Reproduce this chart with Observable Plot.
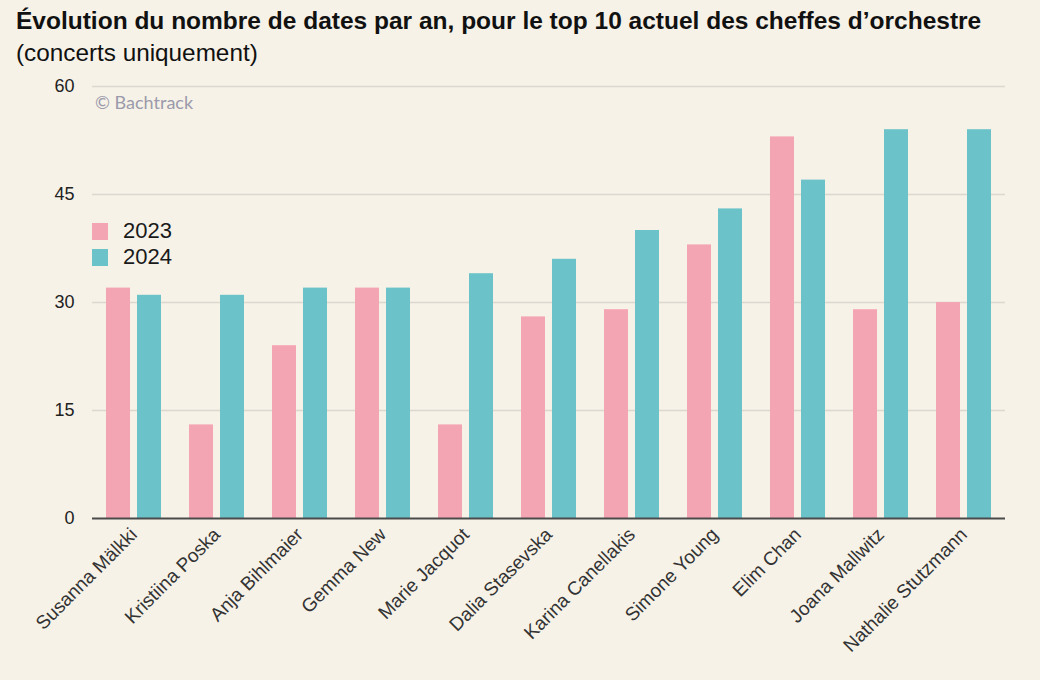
<!DOCTYPE html>
<html>
<head>
<meta charset="utf-8">
<script src="https://cdn.jsdelivr.net/npm/d3@7"></script>
<script src="https://cdn.jsdelivr.net/npm/@observablehq/plot@0.6"></script>
<style>
  html, body { margin: 0; padding: 0; background: #f6f2e8; }
  #wrap { position: relative; width: 1040px; height: 680px; overflow: hidden; font-family: "Liberation Sans", Arial, Helvetica, sans-serif; color: #111; }
  #title { position: absolute; left: 16px; top: 6px; font-size: 24.5px; font-weight: bold; line-height: 30px; white-space: nowrap; }
  #subtitle { position: absolute; left: 16px; top: 38px; font-size: 24.3px; line-height: 30px; white-space: nowrap; }
  #chart { position: absolute; left: 0; top: 72px; }
  #credit { position: absolute; left: 95px; top: 91px; font-family: Lato, "Open Sans", sans-serif; font-size: 18px; color: #9b9aab; }
  #legend { position: absolute; left: 92px; top: 218px; font-size: 22px; color: #1a1a1a; }
  .li { display: flex; align-items: center; height: 26px; }
  .sw { width: 16px; height: 17px; margin-right: 15px; }
</style>
</head>
<body>
<div id="wrap">
  <div id="title">Évolution du nombre de dates par an, pour le top 10 actuel des cheffes d’orchestre</div>
  <div id="subtitle">(concerts uniquement)</div>
  <div id="chart"></div>
  <div id="credit">© Bachtrack</div>
  <div id="legend"></div>
</div>
<script>
const names = ["Susanna Mälkki", "Kristiina Poska", "Anja Bihlmaier", "Gemma New", "Marie Jacquot", "Dalia Stasevska", "Karina Canellakis", "Simone Young", "Elim Chan", "Joana Mallwitz", "Nathalie Stutzmann"];
const years = ["2023", "2024"];
const v2023 = [32, 13, 24, 32, 13, 28, 29, 38, 53, 29, 30];
const v2024 = [31, 31, 32, 32, 34, 36, 40, 43, 47, 54, 54];
const yTicks = [0, 15, 30, 45, 60];
const colors = ["#f4a5b4", "#6bc3c9"];

const data = names.flatMap((n, i) => [
  {name: n, year: years[0], value: v2023[i]},
  {name: n, year: years[1], value: v2024[i]}
]);

const chart = Plot.plot({
  width: 1040,
  height: 608,
  marginLeft: 91,
  marginRight: 35,
  marginTop: 14,
  marginBottom: 162,
  style: {background: "transparent", fontFamily: "'Liberation Sans', Arial, sans-serif", fontSize: "18px", color: "#222"},
  fx: {domain: names, paddingInner: 0, paddingOuter: 0, label: null},
  x: {domain: years, paddingInner: 0.22, paddingOuter: 0.408, axis: null},
  y: {domain: [0, 60], label: null},
  color: {domain: years, range: colors},
  marks: [
    Plot.ruleY(yTicks.filter(d => d > 0), {stroke: "#dcd8cd", strokeWidth: 1.5}),
    Plot.barY(data, {fx: "name", x: "year", y: "value", fill: "year"}),
    Plot.ruleY([0], {stroke: "#4a4a4a", strokeWidth: 2}),
    Plot.axisY({ticks: yTicks, tickSize: 0, tickPadding: 18, label: null, fontSize: 18, fill: "#222"}),
    Plot.axisFx({anchor: "bottom", tickRotate: -45, tickSize: 0, tickPadding: 13, label: null, fontSize: 19, fill: "#333"})
  ]
});
document.getElementById("chart").appendChild(chart);

const legend = document.getElementById("legend");
years.forEach((y, i) => {
  const row = document.createElement("div");
  row.className = "li";
  const sw = document.createElement("span");
  sw.className = "sw";
  sw.style.background = colors[i];
  const t = document.createElement("span");
  t.textContent = y;
  row.appendChild(sw);
  row.appendChild(t);
  legend.appendChild(row);
});
</script>
</body>
</html>
